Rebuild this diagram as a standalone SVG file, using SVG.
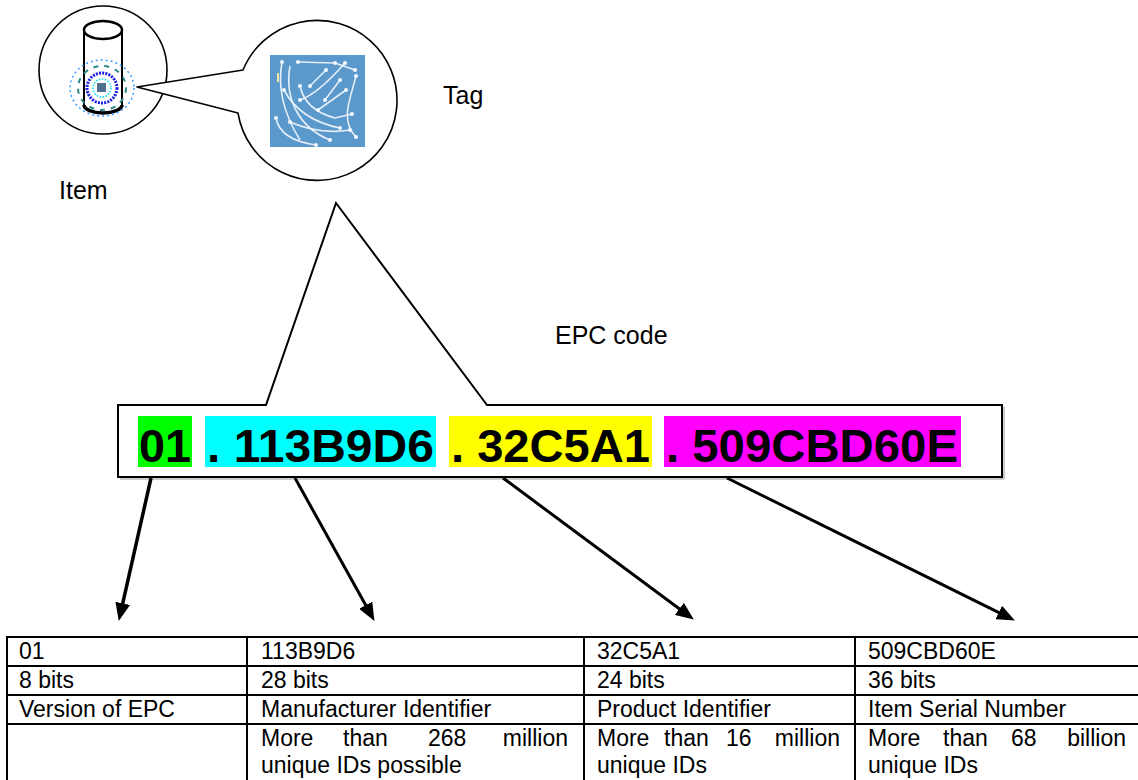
<svg xmlns="http://www.w3.org/2000/svg" width="1138" height="780" viewBox="0 0 1138 780">
<style>
text{font-family:"Liberation Sans",Arial,sans-serif;fill:#000}
.lbl{font-size:25px}
.cell{font-size:23px}
.code{font-size:46px;font-weight:bold}
.tl{stroke:#000;stroke-width:2;fill:none}
.arrow{stroke:#000;stroke-width:3;fill:none;marker-end:url(#ah)}
.trace{stroke:#f4f8ff;stroke-width:1.6;fill:none;opacity:0.9}
.dot{fill:#f4f8ff}
</style>
<defs>
<marker id="ah" viewBox="0 0 18 15" refX="7" refY="7.5" markerWidth="18" markerHeight="15" markerUnits="userSpaceOnUse" orient="auto">
<path d="M0,0 L18,7.5 L0,15 Z" fill="#000"/>
</marker>
</defs>
<rect width="1138" height="780" fill="#fff"/>

<g id="picture">
<g id="item">
<circle cx="103" cy="70" r="64" fill="#fff" stroke="#000" stroke-width="1.6"/>
<ellipse cx="103" cy="30" rx="19" ry="9" fill="none" stroke="#000" stroke-width="2.5"/>
<path d="M84,30 L84,105 M122,30 L122,105" stroke="#000" stroke-width="2" fill="none"/>
<path d="M84,105 A19,8 0 0,0 122,105" stroke="#000" stroke-width="3.5" fill="none"/>
<ellipse cx="102" cy="88" rx="32" ry="28" fill="none" stroke="#3a9cff" stroke-width="1.5" stroke-dasharray="2 3"/>
<ellipse cx="102" cy="88" rx="24" ry="22" fill="none" stroke="#2a8a8a" stroke-width="2" stroke-dasharray="5 6"/>
<circle cx="102" cy="88" r="15" fill="none" stroke="#1a1ae0" stroke-width="3" stroke-dasharray="2 1.2"/>
<circle cx="102" cy="88" r="9" fill="none" stroke="#00e0ff" stroke-width="1.5" stroke-dasharray="1.5 1.5"/>
<rect x="97" y="83" width="9" height="9" fill="#4f6f8f"/>
<text class="lbl" x="59" y="199">Item</text>
</g>
<g id="tag">
<path d="M137,87 L243,70 A80,80 0 1,1 238,113 Z" fill="#fff" stroke="#000" stroke-width="1.6" stroke-linejoin="round"/>
<rect x="270" y="55" width="95" height="92" fill="#5b98cc"/>
<path class="trace" d="M282,62 Q275,100 300,140"/>
<path class="trace" d="M290,66 C284,100 300,128 330,140"/>
<path class="trace" d="M298,62 L335,63 L355,70"/>
<path class="trace" d="M345,63 C330,80 315,95 300,100"/>
<path class="trace" d="M356,76 C350,100 340,120 356,137"/>
<path class="trace" d="M310,86 L326,70"/>
<path class="trace" d="M300,86 Q305,110 335,118 L352,114"/>
<path class="trace" d="M318,110 L346,90"/>
<path class="trace" d="M290,122 Q320,135 350,130"/>
<path class="trace" d="M276,118 Q280,140 316,145"/>
<path class="trace" d="M325,100 L340,80"/>
<path class="trace" d="M284,90 Q300,120 340,128"/>
<g class="dot">
<circle cx="298" cy="62" r="2"/><circle cx="335" cy="63" r="2"/><circle cx="355" cy="70" r="2"/>
<circle cx="345" cy="63" r="2"/><circle cx="300" cy="100" r="2"/><circle cx="356" cy="76" r="2"/>
<circle cx="310" cy="86" r="2"/><circle cx="326" cy="70" r="2"/><circle cx="300" cy="86" r="2"/>
<circle cx="352" cy="114" r="2"/><circle cx="318" cy="110" r="2"/><circle cx="346" cy="90" r="2"/>
<circle cx="290" cy="122" r="2"/><circle cx="350" cy="130" r="2"/><circle cx="276" cy="118" r="2"/>
<circle cx="316" cy="145" r="2"/><circle cx="356" cy="137" r="2"/><circle cx="325" cy="100" r="2"/>
<circle cx="340" cy="80" r="2"/><circle cx="330" cy="140" r="2"/><circle cx="282" cy="62" r="2"/>
<circle cx="284" cy="90" r="2"/><circle cx="340" cy="128" r="2"/>
</g>
<rect x="277" y="73" width="2" height="9" fill="#f0e8a0"/>
<text class="lbl" x="443" y="104">Tag</text>
</g>
</g>

<g id="epc-box">
<path d="M118,477 L118,405 L266,405 L336,203 L487,405 L1002,405 L1002,477 Z" fill="#fff" stroke="#000" stroke-width="2" stroke-linejoin="miter"/>
<path d="M120,479 L1004,479 L1004,407" fill="none" stroke="#999" stroke-width="1"/>
<rect x="138" y="416" width="54" height="51" fill="#00ff00"/>
<rect x="205" y="416" width="231" height="51" fill="#00ffff"/>
<rect x="449" y="416" width="203" height="51" fill="#ffff00"/>
<rect x="664" y="416" width="297" height="51" fill="#ff00ff"/>
<text class="code" x="139" y="462" textLength="52" lengthAdjust="spacingAndGlyphs">01</text>
<text class="code" x="207" y="462" textLength="227" lengthAdjust="spacingAndGlyphs">. 113B9D6</text>
<text class="code" x="451" y="462" textLength="199" lengthAdjust="spacingAndGlyphs">. 32C5A1</text>
<text class="code" x="666" y="462" textLength="292" lengthAdjust="spacingAndGlyphs">. 509CBD60E</text>
</g>
<text id="epc-label" class="lbl" x="555" y="344">EPC code</text>

<g id="connectors">
<line class="arrow" style="stroke-width:3.5" x1="151" y1="478" x2="121.2" y2="610.2"/>
<line class="arrow" x1="295" y1="478" x2="369.1" y2="611.3"/>
<line class="arrow" x1="503" y1="478" x2="685" y2="613"/>
<line class="arrow" x1="727" y1="478" x2="1005" y2="615.6"/>
</g>

<g id="table">
<path class="tl" d="M7,637 L1140,637 M7,666 L1140,666 M7,695 L1140,695 M7,724 L1140,724"/>
<path class="tl" d="M7,636 L7,781 M247,636 L247,781 M584,636 L584,781 M855,636 L855,781"/>
<g id="col1">
<text class="cell" x="19" y="659">01</text>
<text class="cell" x="19" y="688">8 bits</text>
<text class="cell" x="19" y="717">Version of EPC</text>
</g>
<g id="col2">
<text class="cell" x="261" y="659">113B9D6</text>
<text class="cell" x="261" y="688">28 bits</text>
<text class="cell" x="261" y="717">Manufacturer Identifier</text>
<text class="cell" y="746"><tspan x="261">More</tspan><tspan x="343">than</tspan><tspan x="428">268</tspan><tspan x="568" text-anchor="end">million</tspan></text>
<text class="cell" x="261" y="773">unique IDs possible</text>
</g>
<g id="col3">
<text class="cell" x="597" y="659">32C5A1</text>
<text class="cell" x="597" y="688">24 bits</text>
<text class="cell" x="597" y="717">Product Identifier</text>
<text class="cell" y="746"><tspan x="597">More</tspan><tspan x="664">than</tspan><tspan x="726">16</tspan><tspan x="840" text-anchor="end">million</tspan></text>
<text class="cell" x="597" y="773">unique IDs</text>
</g>
<g id="col4">
<text class="cell" x="868" y="659">509CBD60E</text>
<text class="cell" x="868" y="688">36 bits</text>
<text class="cell" x="868" y="717">Item Serial Number</text>
<text class="cell" y="746"><tspan x="868">More</tspan><tspan x="943">than</tspan><tspan x="1011">68</tspan><tspan x="1126" text-anchor="end">billion</tspan></text>
<text class="cell" x="868" y="773">unique IDs</text>
</g>
</g>
</svg>
